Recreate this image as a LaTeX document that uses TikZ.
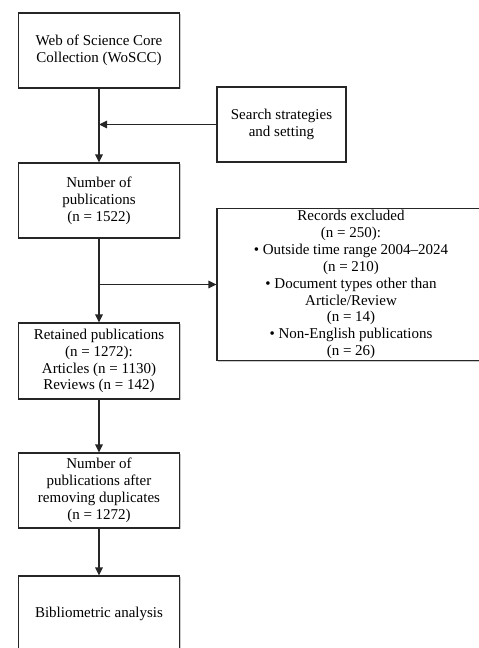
\documentclass[tikz,border=0pt]{standalone}
\usepackage{fontspec}
\setmainfont{Liberation Serif}
\usetikzlibrary{arrows.meta,shadows}
\begin{document}
\begin{tikzpicture}[x=1pt,y=-1pt,
  box/.style={draw=black!85, line width=1.1pt, fill=white, rectangle, align=center,
    minimum width=161pt, minimum height=75pt, inner sep=2pt,
    font=\fontsize{15}{16.9}\selectfont,
    drop shadow={shadow xshift=1.2pt, shadow yshift=-1.2pt, opacity=0.35, fill=black!60}},
  conn/.style={draw=black!85, line width=1.1pt, -{Triangle[length=8pt,width=7.5pt]}},
  line/.style={draw=black!85, line width=1.1pt}]
\useasboundingbox (0,0) rectangle (479,648);
\node[box] (b1) at (99,50.5) {Web of Science Core\\Collection (WoSCC)};
\node[box, minimum width=129pt] (search) at (281.5,124.5) {Search strategies\\and setting};
\node[box] (b2) at (99,200.5) {Number of\\publications\\(n = 1522)};
\node[box, minimum width=268pt, minimum height=150pt] (rec) at (351,284.5)
  {Records excluded\\(n = 250):\\• Outside time range 2004–2024\\(n = 210)\\• Document types other than\\Article/Review\\(n = 14)\\• Non-English publications\\(n = 26)};
\node[box, minimum height=76pt] (ret) at (99,361) {Retained publications\\(n = 1272):\\Articles (n = 1130)\\Reviews (n = 142)};
\node[box] (b3) at (99,490.5) {Number of\\publications after\\removing duplicates\\(n = 1272)};
\node[box] (b4) at (99,613.5) {Bibliometric analysis};
\coordinate (j1) at (b1.south |- search.west);
\coordinate (j2) at (b2.south |- rec.west);
\draw[conn] (b1.south) -- (b2.north);
\draw[conn] (search.west) -- (j1);
\draw[conn] (b2.south) -- (ret.north);
\draw[conn] (j2) -- (rec.west);
\draw[conn] (ret.south) -- (b3.north);
\draw[conn] (b3.south) -- (b4.north);
\end{tikzpicture}
\end{document}
